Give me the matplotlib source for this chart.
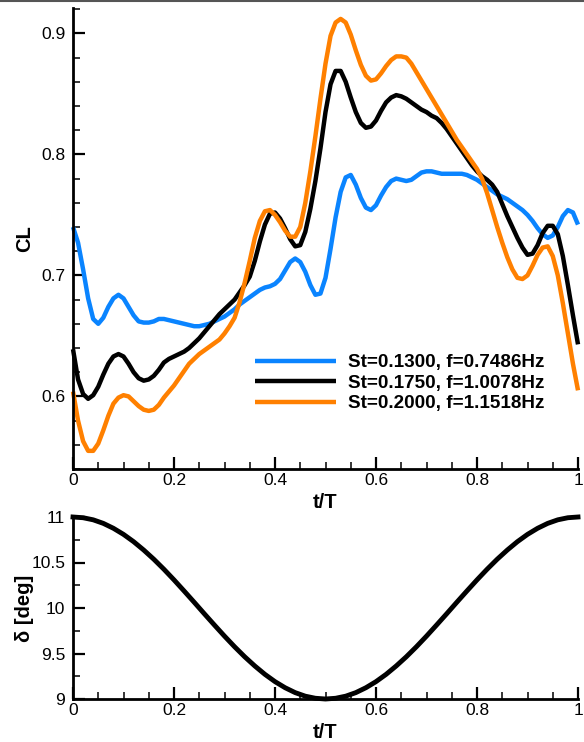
import numpy as np
import matplotlib
matplotlib.use("Agg")
import matplotlib.pyplot as plt
from matplotlib.lines import Line2D
from matplotlib.ticker import MultipleLocator, FormatStrFormatter

plt.rcParams['font.family'] = ['Liberation Sans', 'DejaVu Sans']

# ---------------- data ----------------
t_cl = [i / 100 for i in range(101)]

cl_st0130 = [0.740, 0.727, 0.705, 0.681, 0.664, 0.660, 0.665, 0.674, 0.681, 0.684,
             0.681, 0.674, 0.667, 0.662, 0.661, 0.661, 0.662, 0.664, 0.664, 0.663,
             0.662, 0.661, 0.660, 0.659, 0.658, 0.658, 0.659, 0.660, 0.662, 0.664,
             0.666, 0.669, 0.672, 0.676, 0.679, 0.682, 0.685, 0.688, 0.690, 0.691,
             0.693, 0.697, 0.704, 0.711, 0.714, 0.711, 0.703, 0.692, 0.684, 0.685,
             0.698, 0.722, 0.748, 0.769, 0.781, 0.783, 0.775, 0.764, 0.756, 0.754,
             0.758, 0.766, 0.773, 0.778, 0.780, 0.779, 0.778, 0.779, 0.782, 0.785,
             0.786, 0.786, 0.785, 0.784, 0.784, 0.784, 0.784, 0.784, 0.783, 0.781,
             0.779, 0.776, 0.773, 0.770, 0.767, 0.765, 0.763, 0.760, 0.757, 0.754,
             0.750, 0.745, 0.739, 0.734, 0.731, 0.733, 0.740, 0.749, 0.754, 0.752,
             0.742]

cl_st0175 = [0.639, 0.614, 0.602, 0.598, 0.601, 0.608, 0.618, 0.627, 0.633, 0.635,
             0.633, 0.627, 0.620, 0.615, 0.613, 0.614, 0.617, 0.622, 0.628, 0.631,
             0.633, 0.635, 0.637, 0.640, 0.644, 0.648, 0.653, 0.658, 0.663, 0.668,
             0.672, 0.676, 0.680, 0.686, 0.692, 0.699, 0.712, 0.728, 0.742, 0.751,
             0.752, 0.747, 0.739, 0.730, 0.724, 0.725, 0.736, 0.755, 0.778, 0.805,
             0.835, 0.858, 0.869, 0.869, 0.860, 0.847, 0.835, 0.826, 0.822, 0.823,
             0.828, 0.836, 0.843, 0.847, 0.849, 0.848, 0.846, 0.843, 0.840, 0.837,
             0.835, 0.832, 0.830, 0.826, 0.821, 0.815, 0.809, 0.803, 0.797, 0.791,
             0.786, 0.782, 0.779, 0.775, 0.769, 0.759, 0.749, 0.740, 0.731, 0.723,
             0.717, 0.718, 0.725, 0.735, 0.741, 0.741, 0.734, 0.716, 0.692, 0.667,
             0.643]

cl_st0200 = [0.604, 0.580, 0.563, 0.555, 0.555, 0.561, 0.572, 0.584, 0.594, 0.599,
             0.601, 0.600, 0.596, 0.592, 0.589, 0.588, 0.589, 0.593, 0.599, 0.604,
             0.609, 0.615, 0.621, 0.627, 0.631, 0.635, 0.638, 0.641, 0.644, 0.647,
             0.652, 0.658, 0.665, 0.678, 0.694, 0.712, 0.731, 0.745, 0.753, 0.754,
             0.750, 0.744, 0.737, 0.732, 0.732, 0.740, 0.760, 0.786, 0.815, 0.846,
             0.875, 0.898, 0.909, 0.912, 0.909, 0.899, 0.886, 0.874, 0.865, 0.861,
             0.862, 0.867, 0.873, 0.878, 0.881, 0.881, 0.880, 0.875, 0.868, 0.861,
             0.854, 0.847, 0.840, 0.833, 0.826, 0.819, 0.812, 0.806, 0.800, 0.794,
             0.788, 0.780, 0.768, 0.754, 0.740, 0.727, 0.715, 0.705, 0.698, 0.697,
             0.700, 0.708, 0.717, 0.723, 0.724, 0.716, 0.700, 0.677, 0.652, 0.627,
             0.605]

t_delta = [i / 50 for i in range(51)]
delta_deg = [11.000, 10.992, 10.969, 10.930, 10.876, 10.809, 10.729, 10.637, 10.536, 10.426,
             10.309, 10.187, 10.063, 9.937, 9.813, 9.691, 9.574, 9.464, 9.363, 9.271,
             9.191, 9.124, 9.070, 9.031, 9.008, 9.000, 9.008, 9.031, 9.070, 9.124,
             9.191, 9.271, 9.363, 9.464, 9.574, 9.691, 9.813, 9.937, 10.063, 10.187,
             10.309, 10.426, 10.536, 10.637, 10.729, 10.809, 10.876, 10.930, 10.969, 10.992,
             11.000]

labels = ["St=0.1300, f=0.7486Hz", "St=0.1750, f=1.0078Hz", "St=0.2000, f=1.1518Hz"]
colors = ["#0a84ff", "#000000", "#ff8000"]

# ---------------- figure ----------------
fig = plt.figure(figsize=(5.84, 7.42), dpi=100)
W, H = 584, 742
left, right = 73, 578
ax1 = fig.add_axes([left / W, 1 - 469 / H, (right - left) / W, (469 - 8) / H])
ax2 = fig.add_axes([left / W, 1 - 699 / H, (right - left) / W, (699 - 517) / H])

for lab, col, y in zip(labels, colors, [cl_st0130, cl_st0175, cl_st0200]):
    ax1.plot(t_cl, y, color=col, lw=3.2, label=lab, solid_capstyle='butt',
             solid_joinstyle='round', clip_on=False)

ax2.plot(t_delta, delta_deg, color='black', lw=3.5, clip_on=False)

def style(ax):
    for s in ['top', 'right']:
        ax.spines[s].set_visible(False)
    for s in ['left', 'bottom']:
        ax.spines[s].set_linewidth(2.0)
    ax.tick_params(which='major', direction='in', length=8.5, width=1.6,
                   labelsize=12.5, pad=5.5)
    ax.tick_params(which='minor', direction='in', length=5.2, width=1.1)
    ax.tick_params(axis='x', which='major', pad=3)
    ax.xaxis.set_major_locator(MultipleLocator(0.2))
    ax.xaxis.set_minor_locator(MultipleLocator(0.05))
    ax.xaxis.set_major_formatter(FormatStrFormatter('%g'))
    ax.yaxis.set_major_formatter(FormatStrFormatter('%g'))
    ax.set_xlim(0, 1)

style(ax1)
style(ax2)

ax1.set_ylim(0.54, 0.921)
ax1.yaxis.set_major_locator(MultipleLocator(0.1))
ax1.yaxis.set_minor_locator(MultipleLocator(0.02))

ax2.set_ylim(9, 11)
ax2.yaxis.set_major_locator(MultipleLocator(0.5))
ax2.yaxis.set_minor_locator(MultipleLocator(0.25))

lab_kw = dict(fontsize=14.5, fontweight='bold')
ax1.set_xlabel("t/T", **lab_kw)
ax1.set_ylabel("CL", **lab_kw)
ax2.set_xlabel("t/T", **lab_kw)
ax2.set_ylabel("δ [deg]", **lab_kw)

for ax, hpx in [(ax1, 461), (ax2, 182)]:
    ax.xaxis.set_label_coords(0.5, -34 / hpx)
    ax.xaxis.label.set_va('center')
    ax.yaxis.set_label_coords(-48 / 505, 0.5)
    ax.yaxis.label.set_va('center')

leg = ax1.legend(loc='upper left', bbox_to_anchor=((255 - 73) / 505, (469 - 354) / 461),
                 frameon=False, borderpad=0, borderaxespad=0, handlelength=4.3,
                 handletextpad=0.6, labelspacing=0.18,
                 prop={'weight': 'bold', 'size': 13.6})

fig.add_artist(Line2D([0, 1], [1 - 0.8 / H, 1 - 0.8 / H], color='#555555', lw=1.5,
                      transform=fig.transFigure))

fig.savefig("out.png", dpi=100)
